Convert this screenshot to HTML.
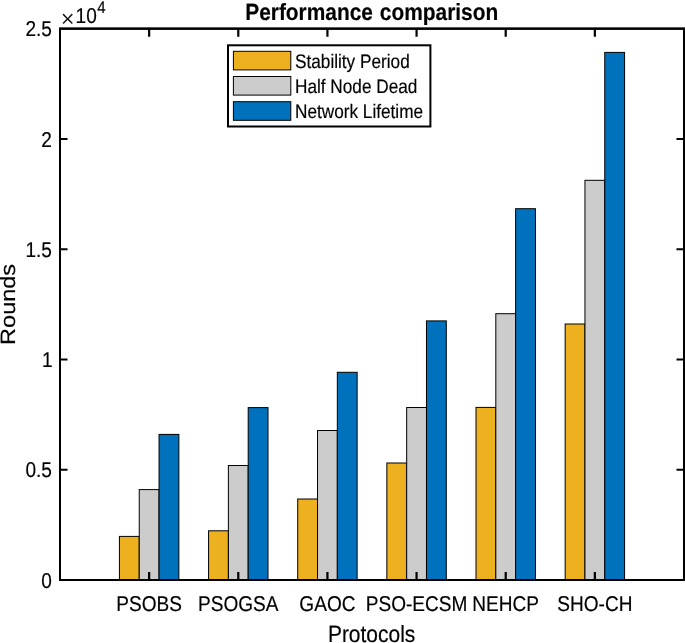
<!DOCTYPE html>
<html lang="en"><head><meta charset="utf-8"><title>Performance comparison</title>
<style>html,body{margin:0;padding:0;background:#fff;overflow:hidden}svg{display:block;will-change:transform}text{text-rendering:geometricPrecision;stroke:#000;stroke-width:0.18px;font-family:"Liberation Sans",sans-serif;fill:#000}</style></head><body>
<svg width="685" height="643" viewBox="0 0 685 643">
<rect width="685" height="643" fill="#fff"/>
<g stroke="#000" stroke-width="1">
<rect x="119.43" y="536.40" width="19.81" height="43.60" fill="#EDB120"/>
<rect x="139.24" y="489.60" width="19.81" height="90.40" fill="#CCCCCC"/>
<rect x="159.05" y="434.40" width="19.81" height="145.60" fill="#0072BD"/>
<rect x="208.57" y="530.80" width="19.81" height="49.20" fill="#EDB120"/>
<rect x="228.38" y="465.50" width="19.81" height="114.50" fill="#CCCCCC"/>
<rect x="248.19" y="407.60" width="19.81" height="172.40" fill="#0072BD"/>
<rect x="297.72" y="499.00" width="19.81" height="81.00" fill="#EDB120"/>
<rect x="317.52" y="430.50" width="19.81" height="149.50" fill="#CCCCCC"/>
<rect x="337.33" y="372.30" width="19.81" height="207.70" fill="#0072BD"/>
<rect x="386.86" y="463.00" width="19.81" height="117.00" fill="#EDB120"/>
<rect x="406.67" y="407.50" width="19.81" height="172.50" fill="#CCCCCC"/>
<rect x="426.48" y="320.90" width="19.81" height="259.10" fill="#0072BD"/>
<rect x="476.00" y="407.40" width="19.81" height="172.60" fill="#EDB120"/>
<rect x="495.81" y="313.70" width="19.81" height="266.30" fill="#CCCCCC"/>
<rect x="515.62" y="208.70" width="19.81" height="371.30" fill="#0072BD"/>
<rect x="565.15" y="324.00" width="19.81" height="256.00" fill="#EDB120"/>
<rect x="584.95" y="180.30" width="19.81" height="399.70" fill="#CCCCCC"/>
<rect x="604.76" y="52.40" width="19.81" height="527.60" fill="#0072BD"/>
</g>
<g stroke="#000" stroke-width="2" fill="none" stroke-linecap="butt">
<rect x="60.0" y="28.7" width="624.0" height="551.3"/>
<path stroke-width="2.3" d="M59.0 28.7H685.0"/>
<path stroke-width="2.2" d="M149.14 580.0V571.9M149.14 28.7V36.8"/>
<path stroke-width="2.2" d="M238.29 580.0V571.9M238.29 28.7V36.8"/>
<path stroke-width="2.2" d="M327.43 580.0V571.9M327.43 28.7V36.8"/>
<path stroke-width="2.2" d="M416.57 580.0V571.9M416.57 28.7V36.8"/>
<path stroke-width="2.2" d="M505.71 580.0V571.9M505.71 28.7V36.8"/>
<path stroke-width="2.2" d="M594.86 580.0V571.9M594.86 28.7V36.8"/>
<path d="M60.0 469.74H67.5M684.0 469.74H676.5"/>
<path d="M60.0 359.48H67.5M684.0 359.48H676.5"/>
<path d="M60.0 249.22H67.5M684.0 249.22H676.5"/>
<path d="M60.0 138.96H67.5M684.0 138.96H676.5"/>
</g>
<text transform="translate(51.90 587.70) scale(0.891 1)" font-size="21.4" font-weight="normal" text-anchor="end" >0</text>
<text transform="translate(51.90 477.44) scale(0.891 1)" font-size="21.4" font-weight="normal" text-anchor="end" >0.5</text>
<text transform="translate(52.70 367.18) scale(0.891 1)" font-size="21.4" font-weight="normal" text-anchor="end" >1</text>
<text transform="translate(51.90 256.92) scale(0.891 1)" font-size="21.4" font-weight="normal" text-anchor="end" >1.5</text>
<text transform="translate(51.90 146.66) scale(0.891 1)" font-size="21.4" font-weight="normal" text-anchor="end" >2</text>
<text transform="translate(51.90 36.40) scale(0.891 1)" font-size="21.4" font-weight="normal" text-anchor="end" >2.5</text>
<text transform="translate(149.14 610.90) scale(0.891 1)" font-size="21.4" font-weight="normal" text-anchor="middle" >PSOBS</text>
<text transform="translate(238.29 610.90) scale(0.891 1)" font-size="21.4" font-weight="normal" text-anchor="middle" >PSOGSA</text>
<text transform="translate(327.43 610.90) scale(0.891 1)" font-size="21.4" font-weight="normal" text-anchor="middle" >GAOC</text>
<text transform="translate(416.57 610.90) scale(0.891 1)" font-size="21.4" font-weight="normal" text-anchor="middle" >PSO-ECSM</text>
<text transform="translate(505.71 610.90) scale(0.891 1)" font-size="21.4" font-weight="normal" text-anchor="middle" >NEHCP</text>
<text transform="translate(594.86 610.90) scale(0.891 1)" font-size="21.4" font-weight="normal" text-anchor="middle" >SHO-CH</text>
<text transform="translate(60.85 26.70) scale(1.0 1)" font-size="24.5" font-weight="normal" text-anchor="start" style='font-family:&quot;Liberation Serif&quot;,serif'>×</text>
<text transform="translate(75.60 22.70) scale(0.891 1)" font-size="21.4" font-weight="normal" text-anchor="start" >10</text>
<text transform="translate(97.30 12.50) scale(0.891 1)" font-size="16.9" font-weight="normal" text-anchor="start" >4</text>
<text transform="translate(371.70 19.80) scale(0.889 1)" font-size="23.5" font-weight="bold" text-anchor="middle" word-spacing="1.2">Performance comparison</text>
<text transform="translate(371.60 642.30) scale(0.892 1)" font-size="23.5" font-weight="normal" text-anchor="middle" >Protocols</text>
<text transform="translate(15.2 304.4) rotate(-90) scale(1 0.885)" font-size="23.5" text-anchor="middle">Rounds</text>
<rect x="228" y="45.3" width="202.4" height="81.2" fill="#fff" stroke="#000" stroke-width="2"/>
<rect x="233.4" y="51.3" width="57.4" height="18.6" fill="#EDB120" stroke="#000" stroke-width="1"/>
<text transform="translate(295.00 68.00) scale(0.882 1)" font-size="19.5" font-weight="normal" text-anchor="start" >Stability Period</text>
<rect x="233.4" y="76.5" width="57.4" height="18.6" fill="#CCCCCC" stroke="#000" stroke-width="1"/>
<text transform="translate(295.00 93.20) scale(0.882 1)" font-size="19.5" font-weight="normal" text-anchor="start" >Half Node Dead</text>
<rect x="233.4" y="101.7" width="57.4" height="18.6" fill="#0072BD" stroke="#000" stroke-width="1"/>
<text transform="translate(295.00 118.40) scale(0.882 1)" font-size="19.5" font-weight="normal" text-anchor="start" >Network Lifetime</text>
</svg></body></html>
